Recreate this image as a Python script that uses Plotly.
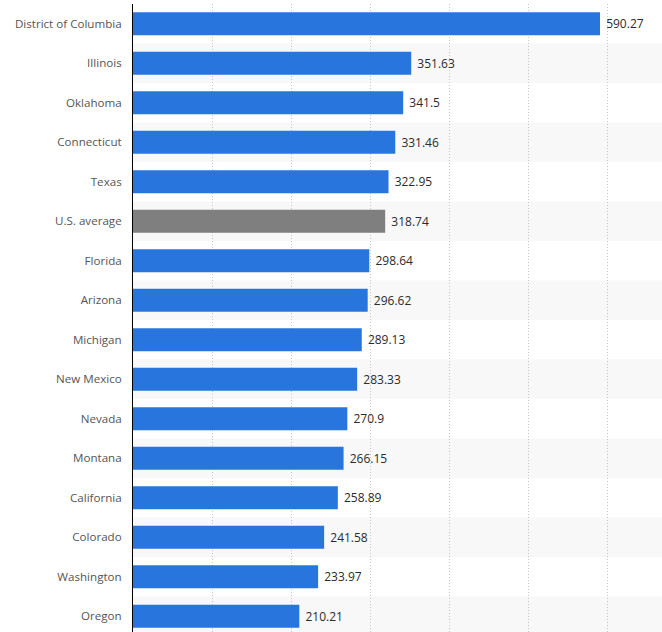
import plotly.graph_objects as go

states = ["District of Columbia", "Illinois", "Oklahoma", "Connecticut", "Texas",
          "U.S. average", "Florida", "Arizona", "Michigan", "New Mexico", "Nevada",
          "Montana", "California", "Colorado", "Washington", "Oregon"]
values = [590.27, 351.63, 341.5, 331.46, 322.95, 318.74, 298.64, 296.62, 289.13,
          283.33, 270.9, 266.15, 258.89, 241.58, 233.97, 210.21]
labels = ["590.27", "351.63", "341.5", "331.46", "322.95", "318.74", "298.64", "296.62",
          "289.13", "283.33", "270.9", "266.15", "258.89", "241.58", "233.97", "210.21"]
highlight = "U.S. average"

BLUE = "#2876dd"
GRAY = "#7f7f7f"
colors = [GRAY if s == highlight else BLUE for s in states]

fig = go.Figure(go.Bar(
    x=values, y=states, orientation="h",
    marker=dict(color=colors, line=dict(width=0)),
    width=0.58,
    text=["\u00a0" + t for t in labels], textposition="outside", cliponaxis=False,
    textfont=dict(family="Open Sans, sans-serif", size=12, color="#2b2b2b"),
    hoverinfo="skip",
))

shapes = []
for i in range(len(states)):
    if i % 2 == 1:
        shapes.append(dict(type="rect", xref="paper", x0=0, x1=1, yref="y",
                           y0=i - 0.5, y1=i + 0.5, fillcolor="#f8f8f8",
                           line=dict(width=0), layer="below"))

fig.update_layout(
    width=662, height=632,
    margin=dict(l=133, r=0, t=4, b=0),
    paper_bgcolor="white", plot_bgcolor="white",
    shapes=shapes,
    showlegend=False,
    font=dict(family="Open Sans, sans-serif", size=11, color="#555555"),
    xaxis=dict(range=[0, 668.6], dtick=100, showgrid=True, gridcolor="#c4c4c4",
               griddash="1px,2px", gridwidth=1, showticklabels=False, zeroline=False,
               ticks="", showline=False, layer="below traces"),
    yaxis=dict(type="category", range=[15.4, -0.5], showline=True,
               linecolor="#000000", linewidth=1, ticks="", ticklabelstandoff=8,
               tickfont=dict(family="Open Sans, sans-serif", size=11.6, color="#555555"),
               showgrid=False, zeroline=False),
)

fig.write_html("out.html", config={"displayModeBar": False},
               post_script="document.body.style.margin='0px';")
